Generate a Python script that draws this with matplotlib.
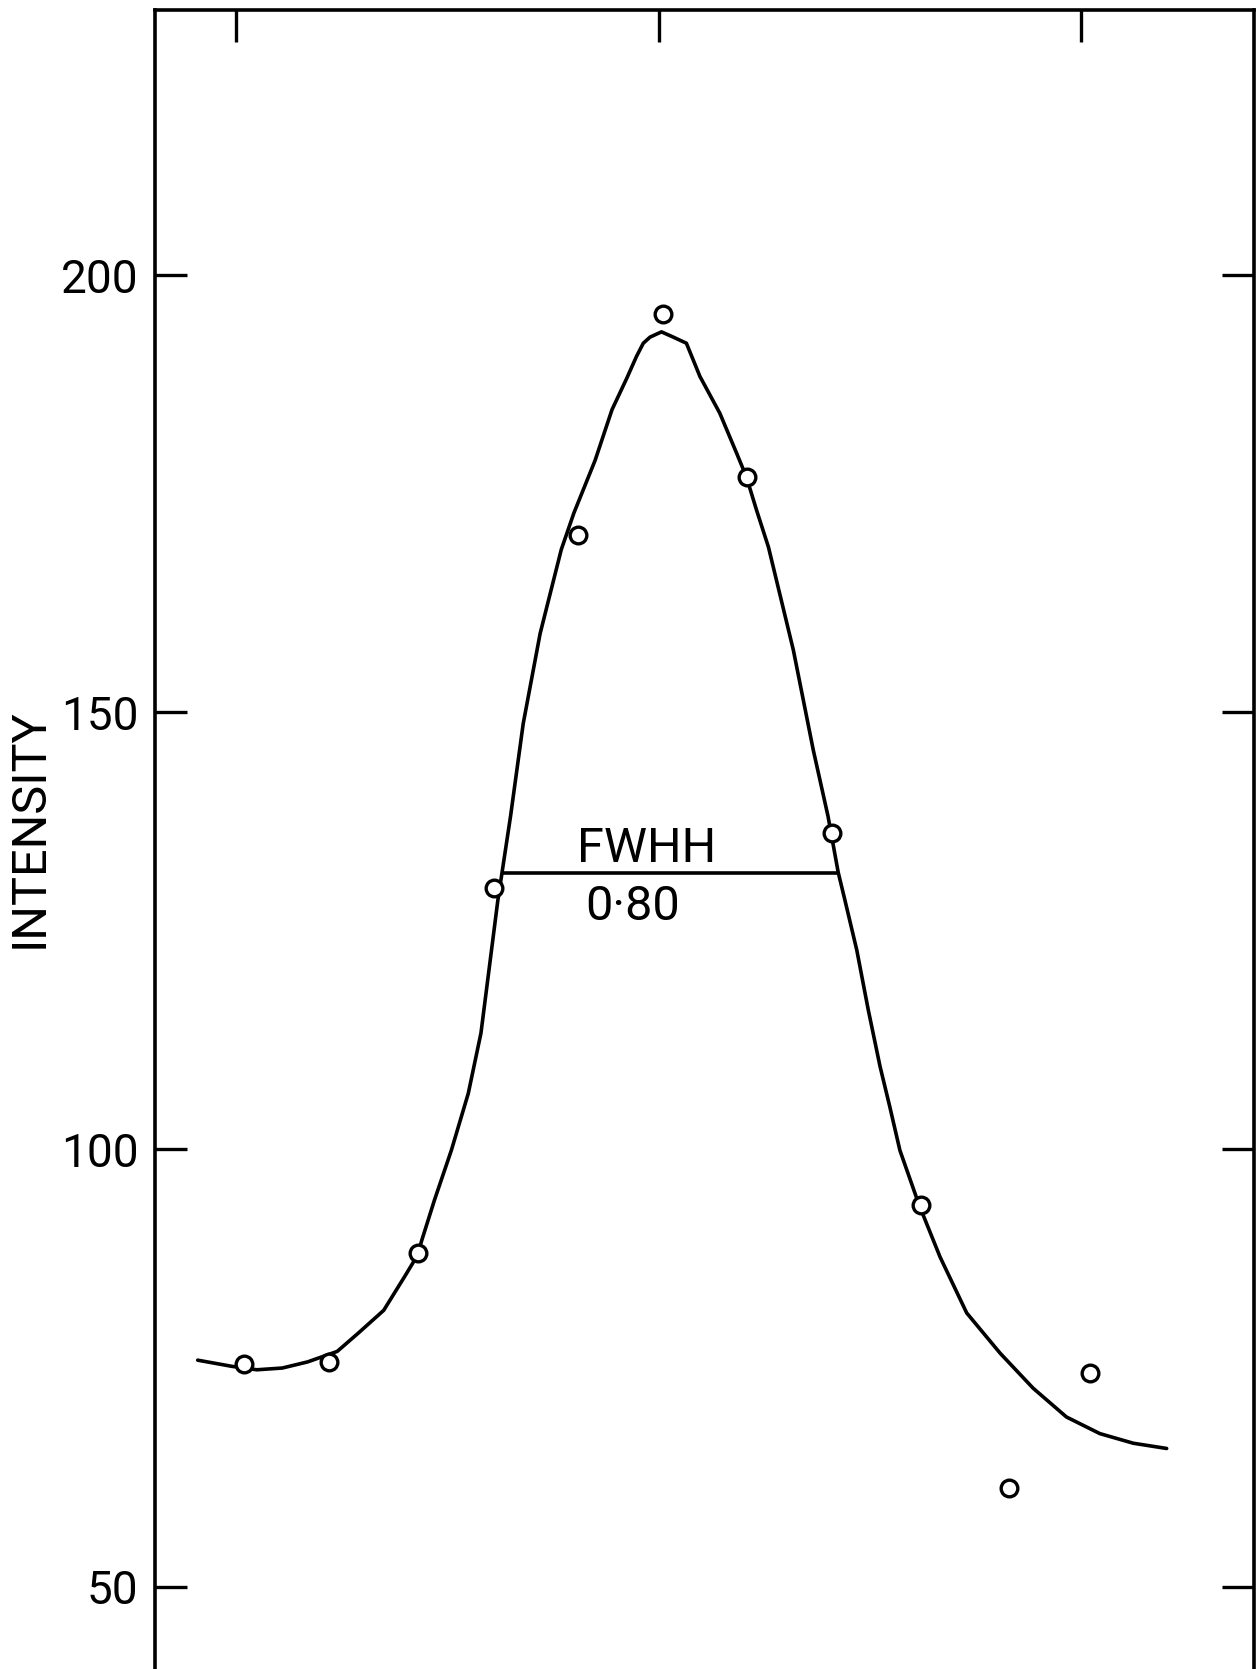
import matplotlib
matplotlib.use('Agg')
from matplotlib import pyplot as plt

# measured points (open circles)
point_x = [-0.98, -0.78, -0.57, -0.39, -0.19, 0.01, 0.21, 0.41, 0.62, 0.83, 1.02]
point_y = [75.5, 75.7, 88.1, 129.9, 170.3, 195.6, 176.9, 136.2, 93.6, 61.3, 74.4]

# fitted curve
curve_x = [-1.09, -1.01, -0.95, -0.89, -0.83, -0.76, -0.71, -0.65, -0.60, -0.57,
           -0.56, -0.53, -0.49, -0.45, -0.42, -0.40, -0.38, -0.37, -0.35, -0.32,
           -0.28, -0.23, -0.20, -0.15, -0.11, -0.075, -0.052, -0.036, -0.020, 0.007,
           0.035, 0.066, 0.082, 0.098, 0.145, 0.185, 0.208, 0.232, 0.26, 0.319,
           0.366, 0.401, 0.425, 0.441, 0.469, 0.496, 0.524, 0.547, 0.571, 0.616,
           0.666, 0.729, 0.808, 0.886, 0.965, 1.044, 1.123, 1.202]
curve_y = [75.9, 75.2, 74.8, 75.0, 75.7, 76.9, 79.0, 81.6, 85.5, 87.9,
           89.6, 94.2, 99.9, 106.4, 113.3, 120.9, 128.5, 131.7, 138.1, 148.7,
           159.0, 168.6, 172.8, 178.8, 184.6, 188.2, 190.7, 192.2, 192.9, 193.5,
           192.9, 192.2, 190.3, 188.4, 184.2, 179.6, 176.9, 173.1, 168.9, 157.1,
           145.7, 138.1, 131.7, 128.5, 122.8, 116.0, 109.5, 104.9, 99.9, 93.7,
           87.7, 81.3, 76.7, 72.7, 69.4, 67.5, 66.4, 65.8]

# full width at half height
fwhh_left, fwhh_right, fwhh_level = -0.371, 0.425, 131.65
fwhh_label = '0\u00b780'

x_ticks = [-1, 0, 1]
y_ticks = [50, 100, 150, 200]
y_label = 'INTENSITY'

W, H = 1259, 1669


def draw(file_name):
    plt.rcParams['font.family'] = ['Roboto', 'DejaVu Sans']
    fig = plt.figure(figsize=(W / 100, H / 100), dpi=100)
    left, right, top = 155, 1254, 10
    ax = fig.add_axes([left / W, 0, (right - left) / W, 1 - top / H])
    ax.set_xlim(-1.191, 1.4086)
    ax.set_ylim(40.58, 230.31)

    ax.plot(curve_x, curve_y, color='black', lw=2.6, solid_capstyle='round',
            solid_joinstyle='round', zorder=2)
    ax.plot(point_x, point_y, linestyle='none', marker='o', ms=12, mew=2.4,
            mfc='white', mec='black', zorder=3)
    ax.hlines(fwhh_level, fwhh_left, fwhh_right, color='black', lw=2.6, zorder=2)

    ax.text(-0.028, 132.9, 'FWHH', ha='center', va='baseline', fontsize=35)
    ax.text(-0.061, 130.3, fwhh_label, ha='center', va='top', fontsize=35)

    for side in ['left', 'right', 'top']:
        ax.spines[side].set_linewidth(2.6)
    ax.spines['bottom'].set_visible(False)

    ax.set_xticks(x_ticks)
    ax.set_yticks(y_ticks)
    ax.tick_params(axis='x', which='both', direction='in', top=True, bottom=False,
                   labeltop=False, labelbottom=False, length=23, width=2.4)
    ax.tick_params(axis='y', direction='in', left=True, right=True, length=23,
                   width=2.4, labelsize=33, pad=12)

    fig.text(30 / W, 1 - 828 / H, y_label, rotation=90, ha='center', va='center',
             fontsize=35)
    fig.savefig(file_name, dpi=100)


def main():
    draw('out.png')


if __name__ == "__main__":
    main()
